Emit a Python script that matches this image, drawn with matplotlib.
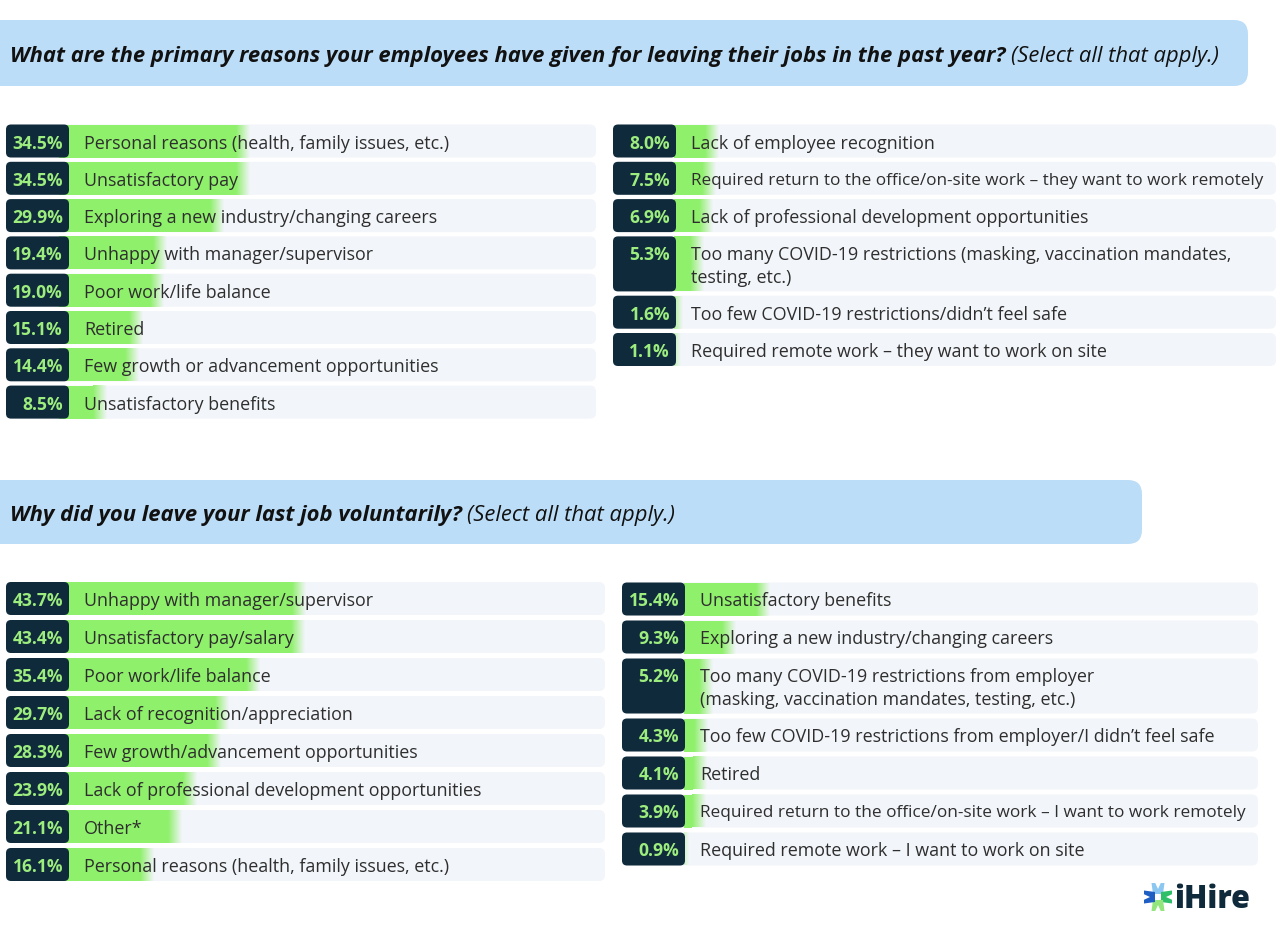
import numpy as np
import matplotlib.pyplot as plt
from matplotlib.patches import FancyBboxPatch, Polygon

plt.rcParams.update({
    "font.family": ["Open Sans", "DejaVu Sans"],
    "font.size": 12,
})

# --- DATA ---
q1_title = "What are the primary reasons your employees have given for leaving their jobs in the past year?"
q2_title = "Why did you leave your last job voluntarily?"
note = "(Select all that apply.)"

q1_left_labels = [
    "Personal reasons (health, family issues, etc.)",
    "Unsatisfactory pay",
    "Exploring a new industry/changing careers",
    "Unhappy with manager/supervisor",
    "Poor work/life balance",
    "Retired",
    "Few growth or advancement opportunities",
    "Unsatisfactory benefits",
]
q1_left_values = [34.5, 34.5, 29.9, 19.4, 19.0, 15.1, 14.4, 8.5]

q1_right_labels = [
    "Lack of employee recognition",
    "Required return to the office/on-site work \u2013 they want to work remotely",
    "Lack of professional development opportunities",
    "Too many COVID-19 restrictions (masking, vaccination mandates,\ntesting, etc.)",
    "Too few COVID-19 restrictions/didn\u2019t feel safe",
    "Required remote work \u2013 they want to work on site",
]
q1_right_values = [8.0, 7.5, 6.9, 5.3, 1.6, 1.1]

q2_left_labels = [
    "Unhappy with manager/supervisor",
    "Unsatisfactory pay/salary",
    "Poor work/life balance",
    "Lack of recognition/appreciation",
    "Few growth/advancement opportunities",
    "Lack of professional development opportunities",
    "Other*",
    "Personal reasons (health, family issues, etc.)",
]
q2_left_values = [43.7, 43.4, 35.4, 29.7, 28.3, 23.9, 21.1, 16.1]

q2_right_labels = [
    "Unsatisfactory benefits",
    "Exploring a new industry/changing careers",
    "Too many COVID-19 restrictions from employer\n(masking, vaccination mandates, testing, etc.)",
    "Too few COVID-19 restrictions from employer/I didn\u2019t feel safe",
    "Retired",
    "Required return to the office/on-site work \u2013 I want to work remotely",
    "Required remote work \u2013 I want to work on site",
]
q2_right_values = [15.4, 9.3, 5.2, 4.3, 4.1, 3.9, 0.9]

# --- STYLE ---
W, H = 1287, 929
BANNER = "#BCDDF7"
ROW_BG = "#F2F5F9"
GREEN = "#8FF06C"
NAVY = "#0E2A3B"
PCT_GREEN = "#9DEC7E"
TEXT = "#2E2E2E"
ROW_H, TALL_H = 33, 55
BOX_W = 63
PX_PER_PCT = 5.5
FADE = 2.4
LABEL_SIZE = 12.9

fig = plt.figure(figsize=(W / 100, H / 100), dpi=100)
renderer = fig.canvas.get_renderer()
bg = fig.add_axes([0, 0, 1, 1], zorder=0)
fg = fig.add_axes([0, 0, 1, 1], zorder=3)
for a in (bg, fg):
    a.set_xlim(0, W)
    a.set_ylim(H, 0)
    a.axis("off")
fg.patch.set_visible(False)

ramp = np.zeros((1, 64, 4))
ramp[..., :3] = plt.matplotlib.colors.to_rgb(GREEN)
ramp[..., 3] = np.linspace(1, 0, 64)


def banner(x_right, y_top, y_bot, title):
    bg.add_patch(FancyBboxPatch((-30, y_top), x_right + 30, y_bot - y_top,
                                boxstyle="round,pad=0,rounding_size=14",
                                fc=BANNER, ec="none"))
    t = bg.text(10, (y_top + y_bot) / 2 + 2, title, ha="left", va="center",
                fontsize=15.8, fontweight="bold", fontstyle="italic", color="#111111")
    bg.annotate(note, xy=(1, 0.5), xycoords=t, xytext=(4, 0),
                textcoords="offset points", ha="left", va="center",
                fontsize=15.8, fontstyle="italic", color="#111111")


def panel(labels, values, x_left, x_right, top, gap, zero_x):
    heights = np.array([TALL_H if "\n" in s else ROW_H for s in labels])
    centers = []
    y = top
    for h in heights:
        centers.append(y + h / 2)
        y += h + gap
    centers = np.array(centers)
    values = np.array(values)

    for c, h in zip(centers, heights):
        bg.add_patch(FancyBboxPatch((x_left, c - h / 2), x_right - x_left, h,
                                    boxstyle="round,pad=0,rounding_size=6",
                                    fc=ROW_BG, ec="none"))

    # bars drawn in percent units
    bax = fig.add_axes([zero_x / W, 0, (x_right - zero_x) / W, 1], zorder=1)
    bax.patch.set_visible(False)
    bax.axis("off")
    bax.barh(centers, values - FADE, height=heights, color=GREEN, lw=0)
    for v, c, h in zip(values, centers, heights):
        bax.imshow(ramp, extent=(v - FADE, v, c + h / 2, c - h / 2),
                   aspect="auto", interpolation="bilinear")
    bax.set_xlim(0, (x_right - zero_x) / PX_PER_PCT)
    bax.set_ylim(H, 0)

    for lab, v, c, h in zip(labels, values, centers, heights):
        fg.add_patch(FancyBboxPatch((x_left, c - h / 2), BOX_W, h,
                                    boxstyle="round,pad=0,rounding_size=5",
                                    fc=NAVY, ec="none"))
        ty = c + 1.5 if h == ROW_H else c - h / 2 + 17.5
        fg.text(x_left + BOX_W - 6, ty, f"{v:.1f}%", ha="right", va="center",
                color=PCT_GREEN, fontweight="bold", fontsize=12.6)
        t = fg.text(x_left + 78, c + 1.5, lab, ha="left", va="center", color=TEXT,
                    fontsize=LABEL_SIZE, linespacing=1.35)
        # squeeze long labels so they stay inside the row
        bb = t.get_window_extent(renderer)
        room = x_right - 18 - (x_left + 78)
        if bb.width > room:
            t.set_fontsize(LABEL_SIZE * room / bb.width)


banner(1248, 21, 87, q1_title)
banner(1142, 481, 545, q2_title)

panel(q1_left_labels, q1_left_values, 6, 596, 125.5, 4.3, 59)
panel(q1_right_labels, q1_right_values, 613, 1276, 125.5, 4.3, 674)
panel(q2_left_labels, q2_left_values, 6, 605, 583, 5.0, 65)
panel(q2_right_labels, q2_right_values, 622, 1258, 583.5, 5.0, 684)

# logo
cx, cy = 1158, 898
arms = [((0, -1), "#8CC7F2"), ((1, 0), "#2FBF6A"), ((0, 1), "#92E67C"), ((-1, 0), "#1F5FC4")]
for (dx, dy), col in arms:
    px, py = -dy, dx
    pts = []
    for a, b in [(3, -5), (14, -6.5), (14, 6.5), (3, 5)]:
        pts.append((cx + dx * a + px * b, cy + dy * a + py * b))
    fg.add_patch(Polygon(pts, closed=True, fc=col, ec="none"))
    notch = [(cx + dx * 14.5 + px * -3, cy + dy * 14.5 + py * -3),
             (cx + dx * 8 + px * 0, cy + dy * 8 + py * 0),
             (cx + dx * 14.5 + px * 3, cy + dy * 14.5 + py * 3)]
    fg.add_patch(Polygon(notch, closed=True, fc="white", ec="none"))
fg.text(1174, 900, "iHire", ha="left", va="center", fontsize=22,
        fontweight="heavy", color=NAVY)

fig.savefig("out.png", dpi=100, facecolor="white")
